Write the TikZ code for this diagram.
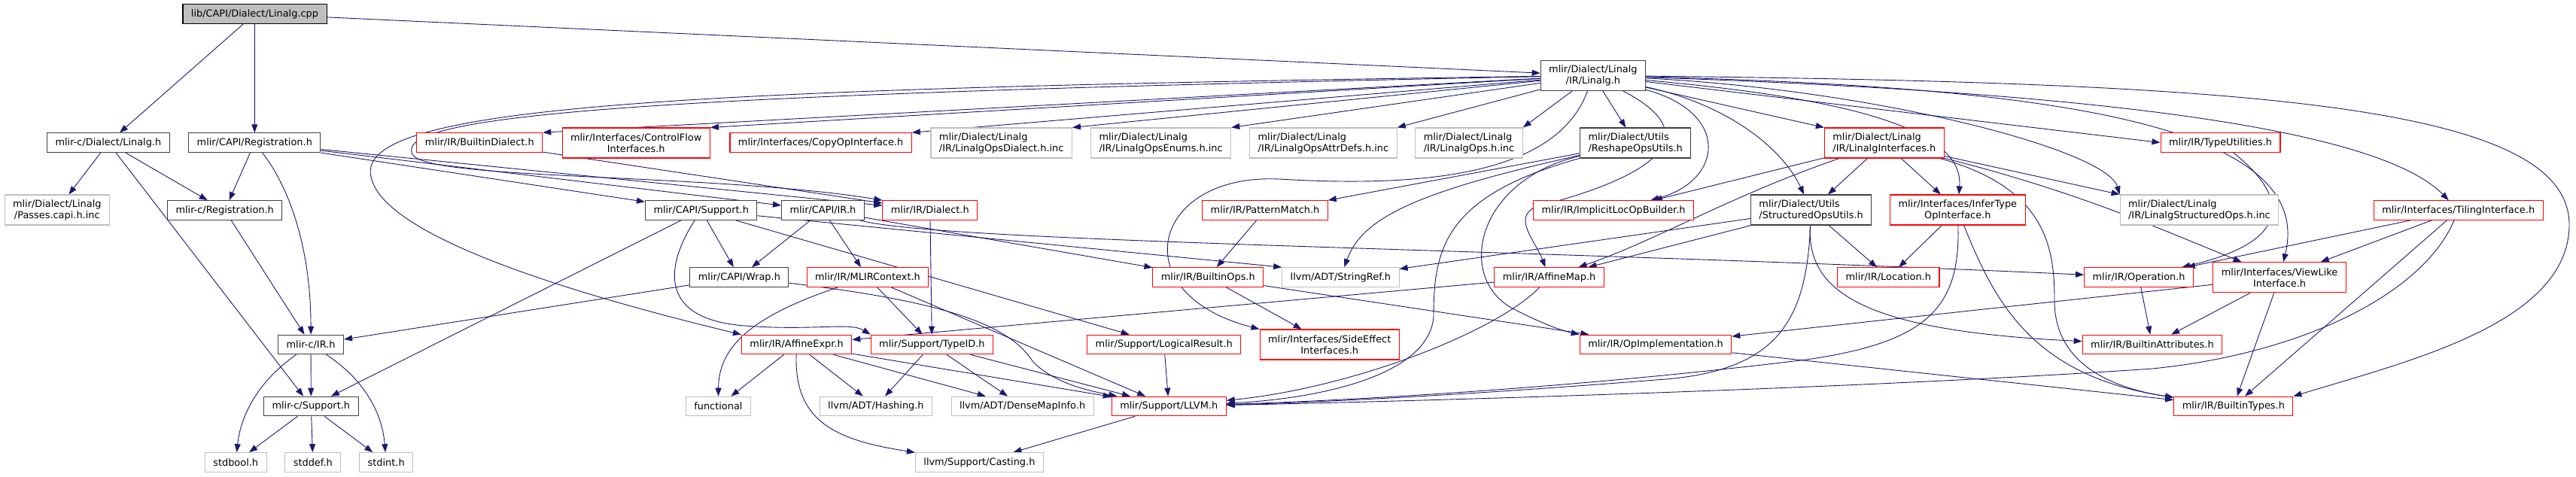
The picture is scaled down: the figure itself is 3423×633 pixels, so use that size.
\documentclass[tikz,border=0pt]{standalone}
\usepackage{fontspec}
\setmainfont{DejaVu Sans}
\usepackage{tikz}
\usetikzlibrary{arrows.meta, backgrounds}
\usepackage{xcolor}
\definecolor{edgeblue}{RGB}{25,25,112}
\definecolor{boxgray}{RGB}{64,64,64}
\definecolor{sysgray}{RGB}{191,191,191}
\definecolor{rootfill}{RGB}{191,191,191}
\newcommand{\graphfont}{\fontsize{12.9}{15}\selectfont}

\begin{document}
\begin{tikzpicture}[x=1pt,y=-1pt,
  hdr/.style={draw=boxgray,fill=white,line width=1.1pt,font=\graphfont,
              inner xsep=11pt,inner ysep=2pt,minimum height=25.6pt,align=center},
  twoline/.style={minimum height=40pt},
  trunc/.style={hdr,draw=red},
  sysinc/.style={hdr,draw=sysgray},
  mainfile/.style={hdr,draw=black,fill=rootfill},
  arr/.style={-{Triangle[length=11pt,width=8pt]},edgeblue,line width=0.9pt}
]
\useasboundingbox (0,0) rectangle (3423,633);

\node[mainfile] (root) at (338.5,18.5) {lib/CAPI/Dialect/Linalg.cpp};
\node[hdr,twoline] (linalgH) at (2116.9,100.3) {mlir/Dialect/Linalg\\/IR/Linalg.h};

\node[hdr] (cLinalg) at (143.9,189.7) {mlir-c/Dialect/Linalg.h};
\node[hdr] (capiReg) at (338.3,189.7) {mlir/CAPI/Registration.h};
\node[trunc] (builtinDialect) at (637.3,189.5) {mlir/IR/BuiltinDialect.h};
\node[trunc,twoline] (controlFlow) at (845.2,190) {mlir/Interfaces/ControlFlow\\Interfaces.h};
\node[trunc] (copyOp) at (1090.6,189.5) {mlir/Interfaces/CopyOpInterface.h};
\node[sysinc,twoline,align=left] (opsDialectInc) at (1330.7,190) {mlir/Dialect/Linalg\\/IR/LinalgOpsDialect.h.inc};
\node[sysinc,twoline,align=left] (opsEnumsInc) at (1542.6,190) {mlir/Dialect/Linalg\\/IR/LinalgOpsEnums.h.inc};
\node[sysinc,twoline,align=left] (opsAttrInc) at (1758.4,190) {mlir/Dialect/Linalg\\/IR/LinalgOpsAttrDefs.h.inc};
\node[sysinc,twoline,align=left] (opsInc) at (1952,190) {mlir/Dialect/Linalg\\/IR/LinalgOps.h.inc};
\node[hdr,twoline,align=left] (reshape) at (2173.2,190) {mlir/Dialect/Utils\\/ReshapeOpsUtils.h};
\node[trunc,twoline,align=left] (interfaces) at (2503.8,190) {mlir/Dialect/Linalg\\/IR/LinalgInterfaces.h};
\node[trunc] (typeUtil) at (2950.5,189.5) {mlir/IR/TypeUtilities.h};

\node[sysinc,twoline] (passesInc) at (75.8,279) {mlir/Dialect/Linalg\\/Passes.capi.h.inc};
\node[hdr] (cReg) at (298.7,279.5) {mlir-c/Registration.h};
\node[hdr] (capiSupport) at (931.7,279.5) {mlir/CAPI/Support.h};
\node[hdr] (capiIR) at (1093.4,279.5) {mlir/CAPI/IR.h};
\node[trunc] (dialect) at (1235.8,279.5) {mlir/IR/Dialect.h};
\node[trunc] (patternMatch) at (1681,279.5) {mlir/IR/PatternMatch.h};
\node[trunc] (implicitLoc) at (2144.1,279.5) {mlir/IR/ImplicitLocOpBuilder.h};
\node[hdr,twoline,align=left] (structOps) at (2406.6,279) {mlir/Dialect/Utils\\/StructuredOpsUtils.h};
\node[trunc,twoline] (inferType) at (2601.3,279) {mlir/Interfaces/InferType\\OpInterface.h};
\node[sysinc,twoline,align=left] (structInc) at (2922.4,279) {mlir/Dialect/Linalg\\/IR/LinalgStructuredOps.h.inc};
\node[trunc] (tiling) at (3266.7,279.5) {mlir/Interfaces/TilingInterface.h};

\node[hdr] (wrap) at (982.4,368.5) {mlir/CAPI/Wrap.h};
\node[trunc] (mlirContext) at (1153,368.5) {mlir/IR/MLIRContext.h};
\node[trunc] (builtinOps) at (1605.3,368.5) {mlir/IR/BuiltinOps.h};
\node[sysinc] (stringRef) at (1781.4,368.5) {llvm/ADT/StringRef.h};
\node[trunc] (affineMap) at (2058.6,368.5) {mlir/IR/AffineMap.h};
\node[trunc] (location) at (2509.3,368.5) {mlir/IR/Location.h};
\node[trunc] (operation) at (2842.1,368.5) {mlir/IR/Operation.h};
\node[trunc,twoline] (viewLike) at (3029.1,368.7) {mlir/Interfaces/ViewLike\\Interface.h};

\node[hdr] (cIR) at (413.1,458) {mlir-c/IR.h};
\node[trunc] (affineExpr) at (1058.6,458) {mlir/IR/AffineExpr.h};
\node[trunc] (typeID) at (1238.4,458) {mlir/Support/TypeID.h};
\node[trunc] (logicalResult) at (1546.7,458) {mlir/Support/LogicalResult.h};
\node[trunc,twoline] (sideEffect) at (1766.7,458) {mlir/Interfaces/SideEffect\\Interfaces.h};
\node[trunc] (opImpl) at (2200,458) {mlir/IR/OpImplementation.h};
\node[trunc] (builtinAttr) at (2859.9,458) {mlir/IR/BuiltinAttributes.h};

\node[hdr] (cSupport) at (413.3,540) {mlir-c/Support.h};
\node[sysinc] (functional) at (954.4,540) {functional};
\node[sysinc] (hashing) at (1163.9,540) {llvm/ADT/Hashing.h};
\node[sysinc] (denseMap) at (1358.6,540) {llvm/ADT/DenseMapInfo.h};
\node[trunc] (llvmH) at (1553.2,540) {mlir/Support/LLVM.h};
\node[trunc] (builtinTypes) at (2967.8,540) {mlir/IR/BuiltinTypes.h};

\node[sysinc] (stdbool) at (313.2,614.5) {stdbool.h};
\node[sysinc] (stddef) at (415.8,614.5) {stddef.h};
\node[sysinc] (stdint) at (513.2,614.5) {stdint.h};
\node[sysinc] (casting) at (1301.4,614.5) {llvm/Support/Casting.h};

\begin{scope}[on background layer]
\draw[arr] (root) -- (cLinalg);
\draw[arr] (root) -- (capiReg);
\draw[arr] (root) -- (linalgH);
\draw[arr] (cLinalg) -- (passesInc);
\draw[arr] (cLinalg) -- (cReg);
\draw[arr] (cLinalg) -- (cSupport);
\draw[arr] (capiReg) -- (cReg);
\draw[arr] (capiReg) .. controls (385,250) and (413,330) .. (cIR);
\draw[arr] (capiReg) -- (capiSupport);
\draw[arr] (capiReg) -- (capiIR);
\draw[arr] (capiReg) -- (dialect);
\draw[arr] (cReg) -- (cIR);
\draw[arr] (cIR) -- (cSupport);
\draw[arr] (cIR) .. controls (345,505) and (320,550) .. (stdbool);
\draw[arr] (cIR) .. controls (485,505) and (508,550) .. (stdint);
\draw[arr] (cSupport) -- (stdbool);
\draw[arr] (cSupport) -- (stddef);
\draw[arr] (cSupport) -- (stdint);
\draw[arr] (builtinDialect) -- (dialect);
\draw[arr] (capiSupport) -- (cSupport);
\draw[arr] (capiSupport) -- (wrap);
\draw[arr] (capiSupport) .. controls (880,360) and (880,425) .. (990,433) .. controls (1080,440) and (1130,428) .. (typeID.north west);
\draw[arr] (capiSupport) -- (logicalResult);
\draw[arr] (capiSupport) -- (stringRef.north west);
\draw[arr] (capiIR) -- (wrap);
\draw[arr] (capiIR) -- (mlirContext);
\draw[arr] (capiIR) -- (builtinOps);
\draw[arr] (capiIR) .. controls (1250,322) and (2000,330) .. (operation);
\draw[arr] (dialect) -- (typeID);
\draw[arr] (wrap) -- (cIR);
\draw[arr] (wrap) .. controls (1250,400) and (1340,430) .. (1372,480) .. controls (1400,510) and (1450,520) .. (llvmH);
\draw[arr] (mlirContext) .. controls (1000,420) and (955,460) .. (functional);
\draw[arr] (mlirContext) -- (typeID);
\draw[arr] (mlirContext) -- (llvmH);
\draw[arr] (typeID) -- (hashing);
\draw[arr] (typeID) -- (denseMap);
\draw[arr] (typeID) -- (llvmH);
\draw[arr] (affineExpr) -- (functional);
\draw[arr] (affineExpr) -- (hashing);
\draw[arr] (affineExpr) -- (denseMap);
\draw[arr] (affineExpr) -- (llvmH);
\draw[arr] (affineExpr) .. controls (1055,560) and (1110,585) .. (casting);
\draw[arr] (logicalResult) -- (llvmH);
\draw[arr] (llvmH) -- (casting);
\draw[arr] (patternMatch) -- (builtinOps);
\draw[arr] (builtinOps) -- (sideEffect);
\draw[arr] (builtinOps) -- (opImpl);
\draw[arr] (affineMap) -- (affineExpr);
\draw[arr] (affineMap) .. controls (1990,440) and (1800,515) .. (llvmH);
\draw[arr] (linalgH) -- (builtinDialect.north east);
\draw[arr] (linalgH) -- (controlFlow.north east);
\draw[arr] (linalgH) -- (copyOp.north east);
\draw[arr] (linalgH) -- (opsDialectInc.north east);
\draw[arr] (linalgH) -- (opsEnumsInc.north east);
\draw[arr] (linalgH) -- (opsAttrInc.north east);
\draw[arr] (linalgH) -- (opsInc.north east);
\draw[arr] (linalgH) -- (reshape);
\draw[arr] (linalgH) .. controls (900,118) and (470,140) .. (493,235) .. controls (510,320) and (800,400) .. (affineExpr.north west);
\draw[arr] (linalgH) .. controls (900,125) and (520,150) .. (548,205) .. controls (565,240) and (950,230) .. (dialect.north west);
\draw[arr] (linalgH) .. controls (2070,230) and (1900,250) .. (1700,238) .. controls (1530,230) and (1490,390) .. (sideEffect.north west);
\draw[arr] (linalgH) .. controls (2300,150) and (2290,240) .. (implicitLoc);
\draw[arr] (linalgH) .. controls (2290,190) and (2160,245) .. (2040,275) .. controls (2010,290) and (2040,320) .. (affineMap);
\draw[arr] (linalgH) -- (interfaces.north west);
\draw[arr] (linalgH) .. controls (2300,140) and (2370,200) .. (structOps);
\draw[arr] (linalgH) .. controls (2450,130) and (2610,170) .. (inferType);
\draw[arr] (linalgH) .. controls (2500,120) and (2800,200) .. (structInc.north west);
\draw[arr] (linalgH) -- (typeUtil.west);
\draw[arr] (linalgH) .. controls (2700,120) and (3150,160) .. (tiling);
\draw[arr] (linalgH) .. controls (2700,115) and (3080,160) .. (viewLike);
\draw[arr] (linalgH) .. controls (3000,110) and (3416,140) .. (3414,300) .. controls (3412,430) and (3200,480) .. (builtinTypes.north east);
\draw[arr] (reshape) -- (patternMatch.north east);
\draw[arr] (reshape) .. controls (1880,255) and (1810,290) .. (stringRef);
\draw[arr] (reshape) .. controls (1960,240) and (1935,370) .. (2010,410) .. controls (2045,428) and (2070,438) .. (opImpl.north west);
\draw[arr] (reshape) .. controls (1920,260) and (1905,330) .. (1905,420) .. controls (1900,500) and (1750,530) .. (llvmH);
\draw[arr] (interfaces) -- (structOps);
\draw[arr] (interfaces) -- (inferType);
\draw[arr] (interfaces) -- (structInc.north west);
\draw[arr] (interfaces) -- (implicitLoc);
\draw[arr] (interfaces) .. controls (2300,260) and (2200,320) .. (affineMap);
\draw[arr] (interfaces) .. controls (2760,255) and (2860,300) .. (viewLike);
\draw[arr] (interfaces) .. controls (2720,250) and (2730,330) .. (2730,400) .. controls (2730,480) and (2800,515) .. (builtinTypes);
\draw[arr] (structOps) -- (stringRef);
\draw[arr] (structOps) -- (affineMap);
\draw[arr] (structOps) -- (location);
\draw[arr] (structOps) .. controls (2400,390) and (2480,440) .. (builtinAttr);
\draw[arr] (structOps) .. controls (2400,430) and (2360,495) .. (2200,505) .. controls (1950,525) and (1750,535) .. (llvmH);
\draw[arr] (inferType) -- (location);
\draw[arr] (inferType) .. controls (2605,410) and (2560,455) .. (2400,478) .. controls (2100,515) and (1800,532) .. (llvmH);
\draw[arr] (inferType) .. controls (2650,400) and (2700,500) .. (builtinTypes);
\draw[arr] (typeUtil) .. controls (3040,260) and (3050,320) .. (operation);
\draw[arr] (tiling) -- (operation);
\draw[arr] (tiling) -- (viewLike);
\draw[arr] (tiling) .. controls (3220,390) and (3060,470) .. (2860,490) .. controls (2500,515) and (1900,533) .. (llvmH);
\draw[arr] (tiling) -- (builtinTypes);
\draw[arr] (viewLike) -- (opImpl);
\draw[arr] (viewLike) -- (builtinAttr);
\draw[arr] (viewLike) -- (builtinTypes);
\draw[arr] (operation) -- (builtinAttr);
\draw[arr] (opImpl) -- (builtinTypes);
\end{scope}
\end{tikzpicture}
\end{document}
